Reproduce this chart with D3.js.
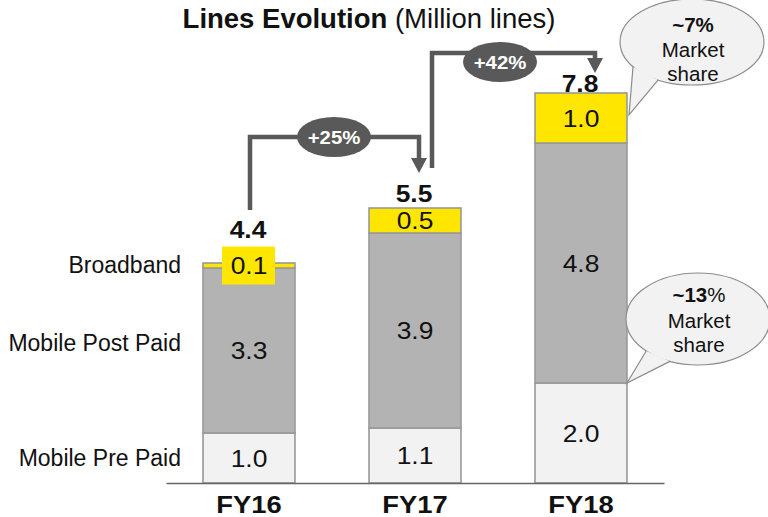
<!DOCTYPE html>
<html>
<head>
<meta charset="utf-8">
<script src="https://cdn.jsdelivr.net/npm/d3@7/dist/d3.min.js"></script>
<style>
  html, body { margin: 0; padding: 0; background: #fff; }
  svg { display: block; font-family: "Liberation Sans", Arial, sans-serif; }
</style>
</head>
<body>
<svg id="chart" width="768" height="517"></svg>
<script>
// Lines per fiscal year, million lines
const categories = ["FY16", "FY17", "FY18"];
const prePaid    = [1.0, 1.1, 2.0];
const postPaid   = [3.3, 3.9, 4.8];
const broadband  = [0.1, 0.5, 1.0];
const totals     = [4.4, 5.5, 7.8];
const seriesNames = ["Mobile Pre Paid", "Mobile Post Paid", "Broadband"];
const growthLabels = ["+25%", "+42%"];
const shareLabels = ["~7%", "~13%"];

const svg = d3.select("#chart");

const colors = { pre: "#f2f2f2", post: "#b3b3b3", bb: "#ffe600" };
const ink = "#111";
const arrowCol = "#595959";
const wide = 1.1; // horizontal widening of the figure typeface

const x = d3.scaleBand().domain(categories).range([166, 664])
  .paddingInner(0.446).paddingOuter(0.223);
const y = d3.scaleLinear().domain([0, 7.8]).range([483, 93]);

// Stack the three series
const rows = categories.map((c, i) => ({ cat: c, pre: prePaid[i], post: postPaid[i], bb: broadband[i] }));
const stack = d3.stack().keys(["pre", "post", "bb"])(rows);

// Centered, slightly widened text
function wideText(parent, cx, cy) {
  return parent.append("text")
    .attr("transform", `translate(${cx},${cy}) scale(${wide},1)`)
    .attr("text-anchor", "middle").attr("fill", ink);
}

// Title
const title = svg.append("text").attr("x", 369).attr("y", 28)
  .attr("text-anchor", "middle").attr("font-size", 27.5).attr("fill", ink);
title.append("tspan").attr("font-weight", "bold").text("Lines Evolution");
title.append("tspan").text(" (Million lines)");

// Bars
const layers = svg.append("g").selectAll("g").data(stack).join("g")
  .attr("fill", d => colors[d.key]);
layers.selectAll("rect").data(d => d).join("rect")
  .attr("x", d => x(d.data.cat))
  .attr("y", d => y(d[1]))
  .attr("width", x.bandwidth())
  .attr("height", d => y(d[0]) - y(d[1]))
  .attr("stroke", "#999").attr("stroke-width", 1.6);

// Axis baseline and category labels
const axis = svg.append("g").attr("transform", `translate(0,${y(0)})`)
  .call(d3.axisBottom(x).tickSize(0).tickPadding(12.5));
axis.select(".domain").attr("stroke", "#666").attr("stroke-width", 1.3);
axis.selectAll(".tick text").attr("font-size", 24).attr("font-weight", "bold")
  .attr("fill", ink).attr("font-family", "Liberation Sans, Arial, sans-serif")
  .attr("transform", `scale(${wide + 0.04},1)`);

// Segment value labels
stack.forEach(layer => {
  layer.forEach(d => {
    const cx = x(d.data.cat) + x.bandwidth() / 2;
    const cy = (y(d[0]) + y(d[1])) / 2;
    const v = d.data[layer.key];
    if (layer.key === "bb" && y(d[0]) - y(d[1]) < 20) {
      // thin segment: label sits on a yellow tag
      svg.append("rect").attr("x", cx - 27).attr("y", cy - 19)
        .attr("width", 53).attr("height", 38).attr("fill", colors.bb);
    }
    wideText(svg, cx, cy).attr("dy", "0.36em").attr("font-size", 24)
      .text(d3.format(".1f")(v));
  });
});

// Totals above bars
const totalBaseline = [238, 202, 92];
categories.forEach((c, i) => {
  wideText(svg, x(c) + x.bandwidth() / 2 - 1, totalBaseline[i])
    .attr("font-size", 24).attr("font-weight", "bold")
    .text(d3.format(".1f")(totals[i]));
});

// Series names beside the first bar
const fx = x(categories[0]);
const nameMid = [
  (y(0) + y(prePaid[0])) / 2,
  (y(prePaid[0]) + y(prePaid[0] + postPaid[0])) / 2 - 7,
  (y(prePaid[0] + postPaid[0]) + y(totals[0])) / 2
];
svg.append("g").selectAll("text").data(seriesNames).join("text")
  .attr("x", fx - 22).attr("y", (d, i) => nameMid[i]).attr("dy", "0.33em")
  .attr("text-anchor", "end").attr("font-size", 23).attr("fill", ink)
  .text(d => d);

// Growth arrows
function growthArrow(x0, y0, yTop, x1, y1, label, ex, ey) {
  const g = svg.append("g");
  g.append("path")
    .attr("d", `M${x0},${y0} V${yTop} H${x1} V${y1 - 12}`)
    .attr("fill", "none").attr("stroke", arrowCol).attr("stroke-width", 4.5);
  g.append("path")
    .attr("d", `M${x1 - 8},${y1 - 15} L${x1 + 8},${y1 - 15} L${x1},${y1} Z`)
    .attr("fill", arrowCol);
  g.append("ellipse").attr("cx", ex).attr("cy", ey).attr("rx", 37).attr("ry", 20)
    .attr("fill", arrowCol);
  wideText(g, ex, ey).attr("dy", "0.36em").attr("font-size", 18.5)
    .attr("font-weight", "bold").attr("fill", "#fff").text(label);
}
const c0 = x(categories[0]) + x.bandwidth() / 2;
const c1 = x(categories[1]) + x.bandwidth() / 2;
const c2 = x(categories[2]) + x.bandwidth() / 2;
growthArrow(c0 + 1, y(totals[0]) - 53, 137, c1 + 4, y(totals[1]) - 35, growthLabels[0], 334, 137);
growthArrow(c1 + 17, y(totals[1]) - 40, 53, c2 + 14, y(totals[2]) - 20, growthLabels[1], 500, 62);

// Market share callouts
function callout(cx, cy, rx, ry, tip, t1, t2, lines) {
  const g = svg.append("g");
  const p = t => [cx + rx * Math.cos(t * Math.PI / 180), cy + ry * Math.sin(t * Math.PI / 180)];
  g.append("ellipse").attr("cx", cx).attr("cy", cy).attr("rx", rx).attr("ry", ry)
    .attr("fill", "#f2f2f2").attr("stroke", "#8c8c8c").attr("stroke-width", 1.2);
  const a = p(t1), b = p(t2);
  g.append("path").attr("d", `M${a[0]},${a[1]} L${tip[0]},${tip[1]} L${b[0]},${b[1]}`)
    .attr("fill", "#f2f2f2").attr("stroke", "#8c8c8c").attr("stroke-width", 1.2);
  lines.forEach(l => {
    const t = g.append("text").attr("x", cx + 1).attr("y", l.y)
      .attr("text-anchor", "middle").attr("font-size", 20.5).attr("fill", ink);
    l.parts.forEach(pt => t.append("tspan").attr("font-weight", pt.b ? "bold" : "normal").text(pt.t));
  });
}
callout(692, 42, 72, 43, [x(categories[2]) + x.bandwidth() + 2, y(totals[2] - broadband[2] / 2) - 3], 145, 118, [
  { y: 32, parts: [{ t: shareLabels[0], b: true }] },
  { y: 57, parts: [{ t: "Market" }] },
  { y: 81, parts: [{ t: "share" }] }
]);
callout(698, 319, 72, 46, [x(categories[2]) + x.bandwidth(), y(prePaid[2])], 136, 113, [
  { y: 302, parts: [{ t: shareLabels[1].replace("%", ""), b: true }, { t: "%" }] },
  { y: 328, parts: [{ t: "Market" }] },
  { y: 352, parts: [{ t: "share" }] }
]);
</script>
</body>
</html>
